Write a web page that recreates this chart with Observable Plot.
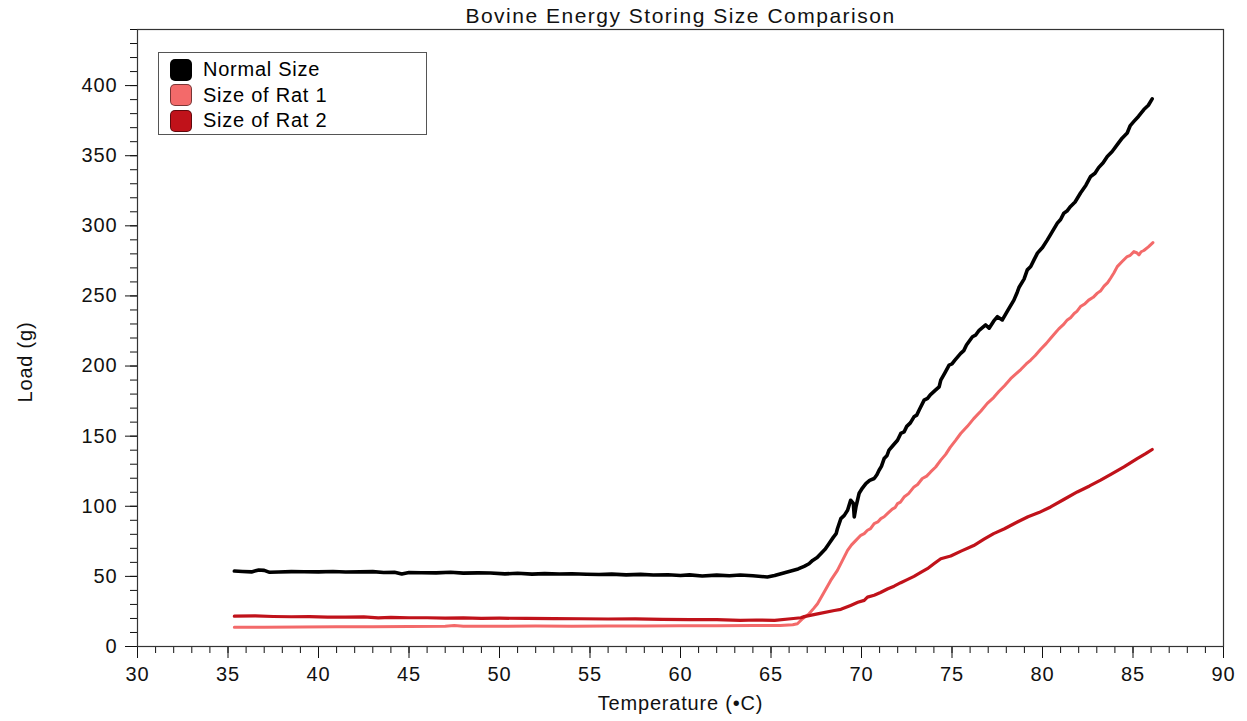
<!DOCTYPE html>
<html>
<head>
<meta charset="utf-8">
<script src="https://cdn.jsdelivr.net/npm/d3@7"></script>
<script src="https://cdn.jsdelivr.net/npm/@observablehq/plot@0.6"></script>
<style>
  html, body { margin: 0; padding: 0; background: #fff; }
  #chart { position: relative; width: 1247px; height: 721px; font-family: "Liberation Sans", Arial, sans-serif; }
  #chart svg { display: block; }
  #chart g[aria-label$="tick label"] text { letter-spacing: 0.9px; }
  .legend {
    position: absolute; left: 158px; top: 52px; width: 269px; height: 83px;
    box-sizing: border-box; border: 1px solid #555; background: #fff;
    padding: 4px 0 0 11px;
  }
  .legend .row { display: flex; align-items: center; height: 25.5px; }
  .legend .sw {
    width: 22px; height: 22px; border-radius: 5px; box-sizing: border-box;
    border: 1px solid rgba(0,0,0,0.5); margin-right: 11px;
  }
  .legend .lab { font-size: 20px; letter-spacing: 0.75px; color: #000; }
</style>
</head>
<body>
<div id="chart"></div>
<script>
// Load (g) against temperature (°C) for three sample sizes, as [temperature, load] pairs
const normalSize = [
  [35.35, 53.8], [35.8, 53.5], [36.3, 53.2], [36.7, 54.6], [37.0, 54.3], [37.3, 52.9], [37.8, 53.1],
  [38.5, 53.4], [39.2, 53.3], [40.0, 53.2], [40.8, 53.5], [41.5, 53.1], [42.3, 53.2], [43.0, 53.4],
  [43.6, 52.8], [44.2, 53.0], [44.6, 51.7], [45.0, 52.8], [45.7, 52.6], [46.5, 52.5], [47.3, 52.9],
  [48.0, 52.3], [48.8, 52.5], [49.5, 52.4], [50.3, 51.8], [51.0, 52.2], [51.8, 51.6], [52.5, 52.0],
  [53.3, 51.7], [54.0, 51.9], [54.8, 51.5], [55.5, 51.3], [56.2, 51.6], [57.0, 51.1], [57.8, 51.4],
  [58.5, 51.0], [59.3, 51.2], [60.0, 50.6], [60.5, 51.1], [61.2, 50.3], [62.0, 50.9], [62.7, 50.5],
  [63.3, 51.0], [64.0, 50.4], [64.8, 49.6], [65.2, 50.6], [65.55, 51.9], [66.1, 53.8], [66.5, 55.3],
  [66.83, 57.1], [67.1, 59.0], [67.3, 61.4], [67.55, 63.5], [67.75, 66.2], [68.0, 69.5], [68.2, 73.3],
  [68.45, 78.0], [68.6, 80.5], [68.67, 84.0], [68.86, 91.2], [69.05, 93.5], [69.23, 97.1], [69.4, 104.3],
  [69.55, 102.0], [69.6, 92.4], [69.7, 100.0], [69.87, 109.3], [70.05, 113.0], [70.24, 116.2],
  [70.45, 118.5], [70.7, 119.8], [70.85, 122.5], [70.97, 125.7], [71.1, 128.5], [71.25, 134.0],
  [71.4, 136.0], [71.52, 140.0], [71.75, 143.5], [71.99, 147.1], [72.17, 151.9], [72.35, 153.0],
  [72.5, 157.0], [72.7, 159.5], [72.9, 163.8], [73.05, 165.0], [73.2, 169.0], [73.46, 175.7],
  [73.65, 177.0], [73.8, 179.5], [74.1, 183.0], [74.29, 185.2], [74.38, 190.0], [74.6, 195.0],
  [74.84, 200.7], [75.0, 201.5], [75.15, 204.0], [75.48, 209.0], [75.65, 211.0], [75.8, 215.0],
  [76.13, 220.9], [76.3, 222.0], [76.5, 225.5], [76.86, 229.3], [77.05, 227.0], [77.3, 232.0],
  [77.51, 235.2], [77.78, 232.9], [78.1, 240.0], [78.42, 247.0], [78.6, 252.5], [78.7, 256.0],
  [78.98, 262.0], [79.16, 268.6], [79.35, 271.0], [79.53, 275.7], [79.72, 280.5], [80.0, 284.5],
  [80.27, 290.0], [80.55, 296.0], [80.82, 301.9], [81.0, 304.5], [81.18, 309.0], [81.35, 310.5],
  [81.55, 313.8], [81.8, 317.0], [82.1, 323.4], [82.4, 329.0], [82.66, 335.2], [82.9, 337.5],
  [83.1, 341.5], [83.35, 345.0], [83.58, 349.5], [83.85, 353.0], [84.13, 357.9], [84.4, 362.5],
  [84.68, 366.2], [84.85, 371.5], [85.05, 374.5], [85.3, 378.0], [85.6, 382.9], [85.85, 386.0],
  [86.06, 390.5]
];

const ratSize1 = [
  [35.35, 13.8], [37.0, 13.8], [39.0, 13.9], [41.0, 14.0], [43.0, 14.1], [45.0, 14.2], [47.0, 14.5],
  [47.5, 14.9], [48.0, 14.4], [50.0, 14.5], [52.0, 14.6], [54.0, 14.5], [56.0, 14.7], [58.0, 14.7],
  [60.0, 14.8], [62.0, 14.8], [64.0, 14.9], [65.5, 15.0], [66.2, 15.5], [66.46, 16.2], [66.74, 19.8],
  [67.1, 23.3], [67.35, 27.0], [67.57, 30.5], [67.94, 38.8], [68.3, 47.1], [68.67, 54.3], [68.95, 61.4],
  [69.23, 68.6], [69.45, 72.5], [69.69, 75.7], [69.96, 79.3], [70.15, 80.5], [70.33, 82.9], [70.5, 84.0],
  [70.7, 87.6], [70.9, 88.8], [71.07, 91.2], [71.25, 92.5], [71.43, 94.8], [71.7, 98.0], [71.85, 99.0],
  [71.99, 101.9], [72.15, 103.0], [72.35, 106.6], [72.6, 109.0], [72.9, 113.8], [73.1, 115.5],
  [73.36, 119.8], [73.6, 121.5], [73.82, 124.5], [74.1, 128.0], [74.38, 132.9], [74.65, 137.0],
  [74.9, 142.0], [75.2, 147.0], [75.48, 151.9], [75.85, 157.0], [76.2, 162.5], [76.6, 168.0],
  [76.95, 173.4], [77.3, 177.5], [77.6, 182.0], [77.9, 186.0], [78.24, 191.0], [78.5, 194.0],
  [78.8, 197.5], [79.1, 201.5], [79.35, 204.3], [79.6, 207.5], [79.9, 212.0], [80.2, 216.0],
  [80.45, 219.8], [80.7, 223.5], [80.9, 226.5], [81.15, 229.5], [81.37, 232.9], [81.55, 234.5],
  [81.75, 237.5], [81.9, 239.0], [82.1, 242.4], [82.35, 244.5], [82.55, 247.0], [82.8, 249.0],
  [83.03, 252.0], [83.2, 253.5], [83.4, 257.0], [83.6, 259.5], [83.76, 262.6], [83.95, 266.5],
  [84.13, 270.9], [84.4, 274.5], [84.68, 278.1], [84.85, 279.0], [85.05, 281.6], [85.2, 280.8],
  [85.33, 279.3], [85.45, 281.5], [85.6, 282.4], [85.85, 285.0], [86.1, 288.0]
];

const ratSize2 = [
  [35.35, 21.6], [36.5, 21.8], [37.5, 21.4], [38.5, 21.2], [39.5, 21.3], [40.5, 21.0], [41.5, 20.9],
  [42.5, 21.1], [43.3, 20.4], [44.0, 20.7], [45.0, 20.5], [46.0, 20.5], [47.0, 20.3], [48.0, 20.4],
  [49.0, 20.1], [50.0, 20.2], [51.5, 20.0], [53.0, 19.9], [54.5, 19.8], [56.0, 19.6], [57.5, 19.7],
  [59.0, 19.4], [60.5, 19.2], [62.0, 19.1], [63.3, 18.6], [64.2, 18.9], [65.2, 18.6], [66.1, 19.8],
  [66.65, 20.5], [66.83, 21.3], [67.57, 23.3], [68.5, 25.7], [68.86, 26.5], [69.4, 29.3], [69.8, 31.5],
  [70.15, 32.9], [70.33, 35.2], [70.7, 36.5], [71.05, 38.5], [71.43, 41.0], [71.8, 43.0], [72.17, 45.5],
  [72.5, 47.5], [72.9, 50.0], [73.3, 53.0], [73.64, 55.5], [74.0, 59.0], [74.38, 62.6], [74.93, 64.5],
  [75.5, 68.0], [76.2, 72.0], [76.77, 76.5], [77.3, 80.5], [77.9, 84.0], [78.61, 88.8], [79.2, 92.5],
  [79.8, 95.5], [80.45, 99.5], [81.2, 105.0], [81.92, 110.2], [82.6, 114.5], [83.21, 118.6],
  [83.8, 123.0], [84.5, 128.1], [85.23, 134.0], [85.7, 137.5], [86.06, 140.5]
];

const seriesNames = ["Normal Size", "Size of Rat 1", "Size of Rat 2"];
const seriesColors = ["#000000", "#f36a6a", "#c0121a"];
const seriesWidths = [3.6, 3.0, 3.2];
const seriesPoints = [normalSize, ratSize1, ratSize2];

const xTicks = [30, 35, 40, 45, 50, 55, 60, 65, 70, 75, 80, 85, 90];
const yTicks = [0, 50, 100, 150, 200, 250, 300, 350, 400];
const xMinorTicks = d3.range(30, 91, 1);
const yMinorTicks = d3.range(0, 441, 10);

const titleText = "Bovine Energy Storing Size Comparison";
const xLabel = "Temperature (•C)";
const yLabel = "Load (g)";

const rows = seriesPoints.flatMap((pts, i) =>
  pts.map(([t, load]) => ({series: seriesNames[i], t, load}))
);

const lineMarks = seriesNames.map((name, i) =>
  Plot.line(rows.filter(d => d.series === name), {
    x: "t", y: "load", stroke: seriesColors[i], strokeWidth: seriesWidths[i],
    strokeLinejoin: "round", strokeLinecap: "round"
  })
);

const chart = Plot.plot({
  width: 1247,
  height: 721,
  marginTop: 29,
  marginRight: 24,
  marginBottom: 75,
  marginLeft: 137,
  style: {fontFamily: '"Liberation Sans", Arial, sans-serif', fontSize: "20px", color: "#111", background: "#fff", overflow: "visible"},
  x: {domain: [30, 90]},
  y: {domain: [0, 440]},
  marks: [
    Plot.axisX({ticks: xMinorTicks, tickSize: 7, tickFormat: () => "", label: null, strokeWidth: 1}),
    Plot.axisX({ticks: xTicks, tickSize: 12, tickPadding: 8, label: null, strokeWidth: 1, fontSize: 20}),
    Plot.axisY({ticks: yMinorTicks, tickSize: 7, tickFormat: () => "", label: null, strokeWidth: 1}),
    Plot.axisY({ticks: yTicks, tickSize: 12, tickPadding: 8, label: null, strokeWidth: 1, fontSize: 20}),
    ...lineMarks,
    Plot.frame({stroke: "#333", strokeWidth: 1.2}),
    Plot.text([titleText], {text: d => d, frameAnchor: "top", dy: -13, lineAnchor: "middle", fontSize: 21, fill: "#111"}),
    Plot.text([xLabel], {text: d => d, frameAnchor: "bottom", dy: 63, fontSize: 20, fill: "#111"}),
    Plot.text([yLabel], {text: d => d, frameAnchor: "left", textAnchor: "middle", dx: -112, dy: 24, rotate: -90, fontSize: 20, fill: "#111"})
  ]
});

// Spread the title and axis-label glyphs a little
const spacing = new Map([[titleText, 1.5], [xLabel, 0.8], [yLabel, 0.8]]);
d3.select(chart).selectAll("text").each(function() {
  const s = spacing.get(this.textContent);
  if (s != null) this.setAttribute("letter-spacing", s);
});

const root = document.getElementById("chart");
root.appendChild(chart);

const legend = document.createElement("div");
legend.className = "legend";
seriesNames.forEach((name, i) => {
  const row = document.createElement("div");
  row.className = "row";
  const sw = document.createElement("div");
  sw.className = "sw";
  sw.style.background = seriesColors[i];
  const lab = document.createElement("span");
  lab.className = "lab";
  lab.textContent = name;
  row.appendChild(sw);
  row.appendChild(lab);
  legend.appendChild(row);
});
root.appendChild(legend);
</script>
</body>
</html>
